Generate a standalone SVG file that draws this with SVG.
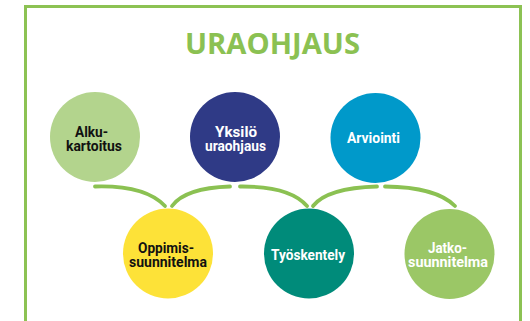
<svg xmlns="http://www.w3.org/2000/svg" width="530" height="321" viewBox="0 0 530 321">
<style>
.lbl{font-family:"Roboto","Open Sans","DejaVu Sans",sans-serif;font-weight:bold;font-size:14px;text-anchor:middle}
.w{fill:#ffffff}
.k{fill:#111111}
.arc{fill:none;stroke:#8BC152;stroke-width:3.8;stroke-linecap:round}
</style>
<rect width="530" height="321" fill="#ffffff"/>
<rect x="25.5" y="6.5" width="495" height="340" fill="none" stroke="#8CC253" stroke-width="3"/>
<text x="272.5" y="54" font-family="'Open Sans','Noto Sans',sans-serif" font-weight="bold" font-size="29" fill="#8BC152" text-anchor="middle" textLength="175" lengthAdjust="spacingAndGlyphs">URAOHJAUS</text>
<g id="connectors">
<path class="arc" d="M95,186.5 Q145,185 165,206"/>
<path class="arc" d="M172,206 Q185,188 230,186.5"/>
<path class="arc" d="M240,186.5 Q290,186 307,206"/>
<path class="arc" d="M313,206 Q327,188 377,186.5"/>
<path class="arc" d="M385,186.5 Q436,187 455,206"/>
</g>
<g id="alkukartoitus">
<circle cx="95" cy="137" r="45" fill="#B3D48D"/>
<text class="lbl k" x="91.5" y="137" textLength="33" lengthAdjust="spacingAndGlyphs">Alku-</text>
<text class="lbl k" x="94" y="151" textLength="56" lengthAdjust="spacingAndGlyphs">kartoitus</text>
</g>
<g id="yksilo">
<circle cx="235" cy="137" r="45" fill="#2F3A86"/>
<text class="lbl w" x="236" y="137" textLength="42" lengthAdjust="spacingAndGlyphs">Yksilö</text>
<text class="lbl w" x="235.5" y="150.5" textLength="61" lengthAdjust="spacingAndGlyphs">uraohjaus</text>
</g>
<g id="arviointi">
<circle cx="375.5" cy="138" r="45" fill="#0099CA"/>
<text class="lbl w" x="373.5" y="143" textLength="53" lengthAdjust="spacingAndGlyphs">Arviointi</text>
</g>
<g id="oppimissuunnitelma">
<circle cx="168" cy="253.5" r="45" fill="#FDE238"/>
<text class="lbl k" x="166" y="253" textLength="56" lengthAdjust="spacingAndGlyphs">Oppimis-</text>
<text class="lbl k" x="168" y="267" textLength="78" lengthAdjust="spacingAndGlyphs">suunnitelma</text>
</g>
<g id="tyoskentely">
<circle cx="309" cy="253.5" r="45" fill="#008B7A"/>
<text class="lbl w" x="308" y="260" textLength="74" lengthAdjust="spacingAndGlyphs">Työskentely</text>
</g>
<g id="jatkosuunnitelma">
<circle cx="449.5" cy="254" r="45" fill="#9BC766"/>
<text class="lbl w" x="447.5" y="253" textLength="39" lengthAdjust="spacingAndGlyphs">Jatko-</text>
<text class="lbl w" x="448" y="267" textLength="80" lengthAdjust="spacingAndGlyphs">suunnitelma</text>
</g>
</svg>
